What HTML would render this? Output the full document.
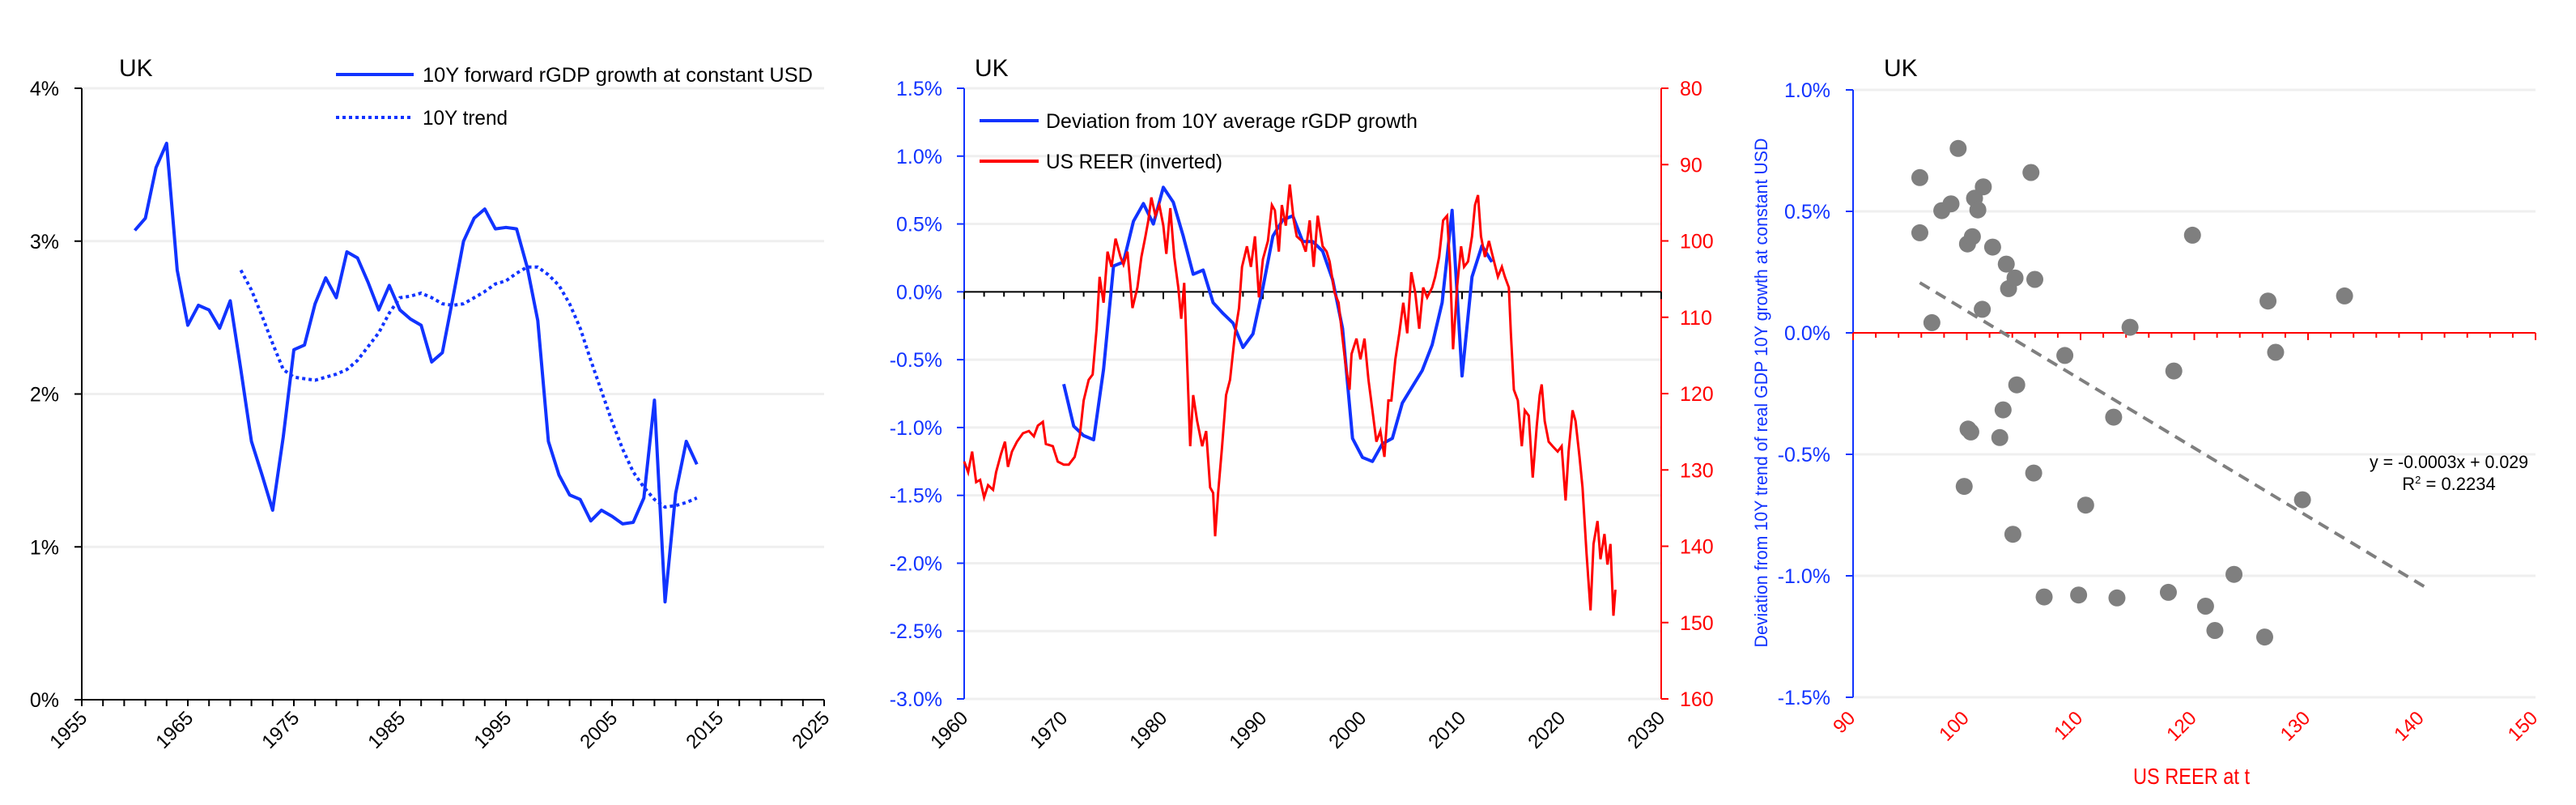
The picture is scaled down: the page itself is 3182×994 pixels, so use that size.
<!DOCTYPE html>
<html><head><meta charset="utf-8"><title>UK charts</title>
<style>
html,body{margin:0;padding:0;background:#fff;}
svg{display:block;font-family:"Liberation Sans",sans-serif;}
</style></head>
<body>
<svg id="root" width="3182" height="994" viewBox="0 0 3182 994" xmlns="http://www.w3.org/2000/svg"></svg>
<script>
// ---------- Chart 1 data ----------
const c1Years = [1960,1961,1962,1963,1964,1965,1966,1967,1968,1969,1970,1971,1972,1973,1974,1975,1976,1977,1978,1979,1980,1981,1982,1983,1984,1985,1986,1987,1988,1989,1990,1991,1992,1993,1994,1995,1996,1997,1998,1999,2000,2001,2002,2003,2004,2005,2006,2007,2008,2009,2010,2011,2012,2013];
const c1Growth = [3.07,3.15,3.48,3.64,2.81,2.45,2.58,2.55,2.43,2.61,2.16,1.69,1.47,1.24,1.72,2.29,2.32,2.59,2.76,2.63,2.93,2.89,2.73,2.55,2.71,2.55,2.49,2.45,2.21,2.27,2.63,3.00,3.15,3.21,3.08,3.09,3.08,2.83,2.48,1.69,1.47,1.34,1.31,1.17,1.24,1.20,1.15,1.16,1.32,1.96,0.64,1.35,1.69,1.54];
const c1TrendYears = [1970,1971,1972,1973,1974,1975,1976,1977,1978,1979,1980,1981,1982,1983,1984,1985,1986,1987,1988,1989,1990,1991,1992,1993,1994,1995,1996,1997,1998,1999,2000,2001,2002,2003,2004,2005,2006,2007,2008,2009,2010,2011,2012,2013];
const c1Trend = [2.81,2.68,2.51,2.33,2.16,2.11,2.10,2.09,2.11,2.13,2.16,2.22,2.31,2.40,2.53,2.63,2.64,2.66,2.63,2.59,2.58,2.59,2.63,2.67,2.72,2.74,2.79,2.83,2.83,2.78,2.71,2.59,2.43,2.22,2.02,1.82,1.64,1.49,1.39,1.31,1.26,1.27,1.29,1.32];
const c1YTicks = [0,1,2,3,4];
const c1XTicks = [1955,1965,1975,1985,1995,2005,2015,2025];

// ---------- Chart 2 data ----------
const c2DevYears = [1970,1971,1972,1973,1974,1975,1976,1977,1978,1979,1980,1981,1982,1983,1984,1985,1986,1987,1988,1989,1990,1991,1992,1993,1994,1995,1996,1997,1998,1999,2000,2001,2002,2003,2004,2005,2006,2007,2008,2009,2010,2011,2012,2013];
const c2Dev = [-0.68,-0.99,-1.06,-1.09,-0.57,0.19,0.22,0.52,0.65,0.50,0.77,0.66,0.41,0.13,0.16,-0.08,-0.16,-0.23,-0.41,-0.31,0.03,0.41,0.53,0.56,0.37,0.37,0.30,0.09,-0.27,-1.08,-1.22,-1.25,-1.12,-1.08,-0.82,-0.70,-0.58,-0.39,-0.08,0.60,-0.62,0.11,0.34,0.22];
const c2ReerYears = [1960.0,1960.4,1960.8,1961.2,1961.6,1962.0,1962.4,1962.9,1963.2,1963.7,1964.1,1964.4,1964.8,1965.3,1965.9,1966.5,1967.0,1967.4,1967.9,1968.2,1968.9,1969.4,1970.0,1970.5,1971.1,1971.6,1972.0,1972.5,1972.9,1973.3,1973.6,1974.0,1974.4,1974.8,1975.2,1975.7,1976.0,1976.4,1976.9,1977.4,1977.8,1978.2,1978.5,1978.8,1979.2,1979.6,1980.0,1980.3,1980.7,1981.1,1981.5,1981.8,1982.1,1982.4,1982.7,1983.0,1983.4,1983.9,1984.3,1984.7,1985.0,1985.2,1985.5,1985.9,1986.3,1986.7,1987.2,1987.6,1987.9,1988.4,1988.8,1989.2,1989.6,1990.0,1990.5,1990.9,1991.2,1991.6,1991.9,1992.3,1992.7,1993.1,1993.4,1993.9,1994.3,1994.7,1995.1,1995.5,1996.0,1996.4,1996.7,1997.2,1997.6,1998.0,1998.3,1998.7,1998.9,1999.4,1999.8,2000.2,2000.6,2001.0,2001.4,2001.8,2002.2,2002.6,2002.9,2003.3,2003.7,2004.1,2004.5,2004.9,2005.3,2005.7,2006.1,2006.5,2007.0,2007.3,2007.7,2008.1,2008.5,2008.8,2009.1,2009.5,2009.9,2010.2,2010.6,2011.0,2011.3,2011.6,2011.9,2012.3,2012.7,2013.1,2013.6,2014.0,2014.3,2014.7,2014.9,2015.2,2015.6,2016.0,2016.3,2016.7,2017.1,2017.5,2017.8,2018.0,2018.3,2018.7,2019.1,2019.6,2020.0,2020.4,2020.7,2021.1,2021.4,2021.8,2022.1,2022.5,2022.9,2023.2,2023.6,2023.9,2024.3,2024.6,2024.9,2025.2,2025.4];
const c2Reer = [128.9,130.3,127.6,131.6,131.3,133.6,132.0,132.6,130.3,127.9,126.3,129.6,127.6,126.3,125.2,124.9,125.6,124.2,123.7,126.6,126.9,128.9,129.3,129.3,128.3,125.6,120.9,118.2,117.5,111.5,104.7,108.1,101.4,103.4,99.7,102.1,103.1,101.4,108.8,106.1,102.1,99.4,97.3,94.3,96.7,95.3,98.0,101.7,95.7,102.1,106.1,110.2,105.5,116.2,126.9,120.2,123.6,126.9,124.9,132.3,133.0,138.7,133.0,126.9,120.2,118.2,112.1,108.8,103.4,100.7,103.4,99.4,107.4,102.4,100.0,95.3,96.0,101.4,95.3,98.0,92.6,97.3,99.4,100.0,101.4,97.3,103.4,96.7,100.7,101.4,102.7,106.8,108.1,112.8,116.2,119.5,114.8,112.8,115.5,112.8,118.2,122.2,126.3,124.9,128.3,120.9,120.9,115.5,112.1,108.1,112.1,104.1,106.8,111.5,106.1,107.4,106.1,104.7,102.1,97.3,96.7,103.4,114.2,106.1,100.7,103.4,102.7,99.4,95.3,94.0,99.4,102.1,100.0,102.1,104.7,103.4,104.7,106.1,112.1,119.5,120.9,126.9,122.2,122.9,131.0,124.2,120.2,118.8,123.6,126.3,126.9,127.6,126.9,134.0,127.6,122.2,123.6,128.3,132.3,141.0,148.4,139.7,136.7,141.7,138.4,142.4,139.7,149.1,145.7];
const c2LeftTicks = [1.5,1.0,0.5,0.0,-0.5,-1.0,-1.5,-2.0,-2.5,-3.0];
const c2RightTicks = [80,90,100,110,120,130,140,150,160];
const c2XTicks = [1960,1970,1980,1990,2000,2010,2020,2030];

// ---------- Chart 3 data ----------
const c3Reer = [95.87,95.87,96.93,97.80,98.61,99.24,99.77,100.06,100.49,100.11,100.35,100.68,100.97,101.45,101.36,102.27,102.90,103.19,103.47,103.67,104.05,104.24,104.39,105.64,105.88,105.98,106.80,108.62,109.83,110.45,112.91,113.20,114.35,117.72,118.20,119.84,120.99,121.81,123.49,126.19,126.48,127.15,129.51,133.21];
const c3Dev = [0.639,0.412,0.042,0.503,0.531,0.759,-0.632,0.366,0.396,-0.396,-0.408,0.554,0.506,0.601,0.097,0.353,-0.431,-0.317,0.283,0.182,-0.829,0.226,-0.214,0.660,-0.577,0.220,-1.087,-0.093,-1.079,-0.709,-0.347,-1.091,0.023,-1.068,-0.157,0.402,-1.125,-1.225,-0.994,-1.252,0.131,-0.080,-0.687,0.152];
const c3TrendSlope = [-0.0282];
const c3TrendIntercept = [2.91];
const c3TrendRange = [95.87,140.4];
const c3YTicks = [1.0,0.5,0.0,-0.5,-1.0,-1.5];
const c3XTicks = [90,100,110,120,130,140,150];

const NS = "http://www.w3.org/2000/svg";
const root = document.getElementById('root');
function mk(tag, attrs, parent){
  const e = document.createElementNS(NS, tag);
  for (const k in attrs) e.setAttribute(k, attrs[k]);
  (parent||root).appendChild(e);
  return e;
}
function txt(parent, s, attrs){ const t = mk('text', attrs, parent); t.textContent = s; return t; }
function poly(xs, ys, fx, fy){ return xs.map((v,i)=>fx(v).toFixed(1)+','+fy(ys[i]).toFixed(1)).join(' '); }

// ======= CHART 1 =======
(function(){
  const g = mk('g', {});
  
  
  const X0=101, X1=1018, Y0=109, Y1=864;
  const fx = v => X0 + (v-1955)/(2025-1955)*(X1-X0);
  const fy = v => Y1 - (v-0)/(4-0)*(Y1-Y0);
  c1YTicks.forEach(v=>{
    if (v>0) {
      const gl = mk('line',{x1:X0,x2:X1,y1:fy(v),y2:fy(v),stroke:'#efefef','stroke-width':3},g);
      
      
    }
    mk('line',{x1:X0-9,x2:X0,y1:fy(v),y2:fy(v),stroke:'#000','stroke-width':2},g);
    const t = txt(g, v+'%', {x:X0-28,y:fy(v)+9,'text-anchor':'end','font-size':25,fill:'#000'});
    
    
  });
  const ax = mk('line',{x1:X0,x2:X0,y1:Y0,y2:Y1,stroke:'#000','stroke-width':2},g);
  
  
  const bx = mk('line',{x1:X0,x2:X1,y1:Y1,y2:Y1,stroke:'#000','stroke-width':2},g);
  
  
  for (let yr=1955; yr<=2025; yr+=2){ mk('line',{x1:fx(yr),x2:fx(yr),y1:Y1,y2:Y1+8,stroke:'#000','stroke-width':2},g); }
  mk('line',{x1:X1,x2:X1,y1:Y1,y2:Y1+8,stroke:'#000','stroke-width':2},g);
  c1XTicks.forEach(yr=>{
    const x = fx(yr)+8, y = 888;
    const t = txt(g, String(yr), {x:x,y:y,'text-anchor':'end','font-size':24,fill:'#000',transform:`rotate(-45 ${x} ${y})`});
    
    
  });
  const tr = mk('polyline',{points:poly(c1TrendYears,c1Trend,fx,fy),fill:'none',stroke:'#1133ff','stroke-width':4,'stroke-dasharray':'4 4'},g);
  
  
  const ln = mk('polyline',{points:poly(c1Years,c1Growth,fx,fy),fill:'none',stroke:'#1133ff','stroke-width':4,'stroke-linejoin':'round'},g);
  
  
  const ti = txt(g,'UK',{x:147,y:94,'font-size':30,fill:'#000'});
  
  
  const l1 = mk('line',{x1:415,x2:511,y1:92,y2:92,stroke:'#1133ff','stroke-width':4},g);
  
  
  const lt1 = txt(g,'10Y forward rGDP growth at constant USD',{x:522,y:101,'font-size':25,fill:'#000',textLength:482,lengthAdjust:'spacingAndGlyphs'});
  
  
  const l2 = mk('line',{x1:415,x2:511,y1:145,y2:145,stroke:'#1133ff','stroke-width':4,'stroke-dasharray':'4 4'},g);
  
  
  const lt2 = txt(g,'10Y trend',{x:522,y:154,'font-size':25,fill:'#000',textLength:105,lengthAdjust:'spacingAndGlyphs'});
  
  
})();

// ======= CHART 2 =======
(function(){
  const g = mk('g', {});
  
  
  const X0=1191, X1=2052, Y0=109, Y1=863;
  const fx = v => X0 + (v-1960)/(2030-1960)*(X1-X0);
  const fy = v => Y0 + (1.5-v)/(4.5)*(Y1-Y0);
  const fr = v => Y0 + (v-80)/80*(Y1-Y0);
  c2LeftTicks.forEach(v=>{
    if (v!==0){
      const gl = mk('line',{x1:X0,x2:X1,y1:fy(v),y2:fy(v),stroke:'#efefef','stroke-width':3},g);
      
      
    }
    mk('line',{x1:X0-9,x2:X0,y1:fy(v),y2:fy(v),stroke:'#1133ff','stroke-width':2},g);
    const t = txt(g, v.toFixed(1)+'%', {x:X0-27,y:fy(v)+9,'text-anchor':'end','font-size':25,fill:'#1133ff'});
    
    
  });
  c2RightTicks.forEach(v=>{
    mk('line',{x1:X1,x2:X1+9,y1:fr(v),y2:fr(v),stroke:'#ff0000','stroke-width':2},g);
    const t = txt(g, String(v), {x:X1+23,y:fr(v)+9,'font-size':25,fill:'#ff0000'});
    
    
  });
  const la = mk('line',{x1:X0,x2:X0,y1:Y0,y2:Y1,stroke:'#1133ff','stroke-width':2},g);
  
  
  const ra = mk('line',{x1:X1,x2:X1,y1:Y0,y2:Y1,stroke:'#ff0000','stroke-width':2},g);
  
  
  const z = mk('line',{x1:X0,x2:X1,y1:fy(0),y2:fy(0),stroke:'#000','stroke-width':2},g);
  
  
  for (let yr=1960; yr<=2030; yr+=2){ mk('line',{x1:fx(yr),x2:fx(yr),y1:fy(0),y2:fy(0)+(yr%10===0?9:6),stroke:'#000','stroke-width':2},g); }
  c2XTicks.forEach(yr=>{
    const x = fx(yr)+6, y = 888;
    const t = txt(g, String(yr), {x:x,y:y,'text-anchor':'end','font-size':24,fill:'#000',transform:`rotate(-45 ${x} ${y})`});
    
    
  });
  const dl = mk('polyline',{points:poly(c2DevYears,c2Dev,fx,fy),fill:'none',stroke:'#1133ff','stroke-width':4,'stroke-linejoin':'round'},g);
  
  
  const rl = mk('polyline',{points:poly(c2ReerYears,c2Reer,fx,fr),fill:'none',stroke:'#ff0000','stroke-width':3,'stroke-linejoin':'miter'},g);
  
  
  const ti = txt(g,'UK',{x:1204,y:94,'font-size':30,fill:'#000'});
  
  
  const l1 = mk('line',{x1:1210,x2:1283,y1:149,y2:149,stroke:'#1133ff','stroke-width':4},g);
  
  
  const lt1 = txt(g,'Deviation from 10Y average rGDP growth',{x:1292,y:158,'font-size':25,fill:'#000',textLength:459,lengthAdjust:'spacingAndGlyphs'});
  
  
  const l2 = mk('line',{x1:1210,x2:1283,y1:199,y2:199,stroke:'#ff0000','stroke-width':4},g);
  
  
  const lt2 = txt(g,'US REER (inverted)',{x:1292,y:208,'font-size':25,fill:'#000',textLength:218,lengthAdjust:'spacingAndGlyphs'});
  
  
})();

// ======= CHART 3 =======
(function(){
  const g = mk('g', {});
  
  
  const X0=2289, X1=3132, Y0=111, Y1=861;
  const fx = v => X0 + (v-90)/60*(X1-X0);
  const fy = v => Y0 + (1.0-v)/2.5*(Y1-Y0);
  c3YTicks.forEach(v=>{
    if (v!==0){
      const gl = mk('line',{x1:X0,x2:X1,y1:fy(v),y2:fy(v),stroke:'#efefef','stroke-width':3},g);
      
      
    }
    mk('line',{x1:X0-9,x2:X0,y1:fy(v),y2:fy(v),stroke:'#1133ff','stroke-width':2},g);
    const t = txt(g, v.toFixed(1)+'%', {x:X0-28,y:fy(v)+9,'text-anchor':'end','font-size':25,fill:'#1133ff'});
    
    
  });
  const ya = mk('line',{x1:X0,x2:X0,y1:Y0,y2:Y1,stroke:'#1133ff','stroke-width':2},g);
  
  
  const z = mk('line',{x1:X0,x2:X1,y1:fy(0),y2:fy(0),stroke:'#ff0000','stroke-width':2},g);
  
  
  for (let v=90; v<=150; v+=2){ mk('line',{x1:fx(v),x2:fx(v),y1:fy(0),y2:fy(0)+(v%10===0?9:6),stroke:'#ff0000','stroke-width':2},g); }
  c3XTicks.forEach(v=>{
    const x = fx(v)+4, y = 888;
    const t = txt(g, String(v), {x:x,y:y,'text-anchor':'end','font-size':24,fill:'#ff0000',transform:`rotate(-45 ${x} ${y})`});
    
    
  });
  c3Reer.forEach((v,i)=>{
    const c = mk('circle',{cx:fx(v),cy:fy(c3Dev[i]),r:10.5,fill:'#7f7f7f'},g);
    
    
  });
  const ta = c3TrendRange[0], tb = c3TrendRange[1];
  const tl = mk('line',{x1:fx(ta),y1:fy(c3TrendSlope[0]*ta+c3TrendIntercept[0]),x2:fx(tb),y2:fy(c3TrendSlope[0]*tb+c3TrendIntercept[0]),stroke:'#7f7f7f','stroke-width':4,'stroke-dasharray':'14 9'},g);
  
  
  const e1 = txt(g,'y = -0.0003x + 0.029',{x:3025,y:578,'text-anchor':'middle','font-size':22,fill:'#000',textLength:196,lengthAdjust:'spacingAndGlyphs'});
  
  
  const e2 = mk('text',{x:3025,y:605,'text-anchor':'middle','font-size':22,fill:'#000'},g);
  
  
  e2.innerHTML = 'R<tspan dy="-8" font-size="13">2</tspan><tspan dy="8"> = 0.2234</tspan>';
  const ti = txt(g,'UK',{x:2327,y:94,'font-size':30,fill:'#000'});
  
  
  const yt = txt(g,'Deviation from 10Y trend of real GDP 10Y growth at constant USD',{x:0,y:0,'text-anchor':'middle','font-size':22,fill:'#1133ff',textLength:629,lengthAdjust:'spacingAndGlyphs',transform:'translate(2183 485) rotate(-90)'});
  
  
  const xt = txt(g,'US REER at t',{x:2707,y:968,'text-anchor':'middle','font-size':28,fill:'#ff0000',textLength:144,lengthAdjust:'spacingAndGlyphs'});
  
  
})();
</script>
</body></html>
